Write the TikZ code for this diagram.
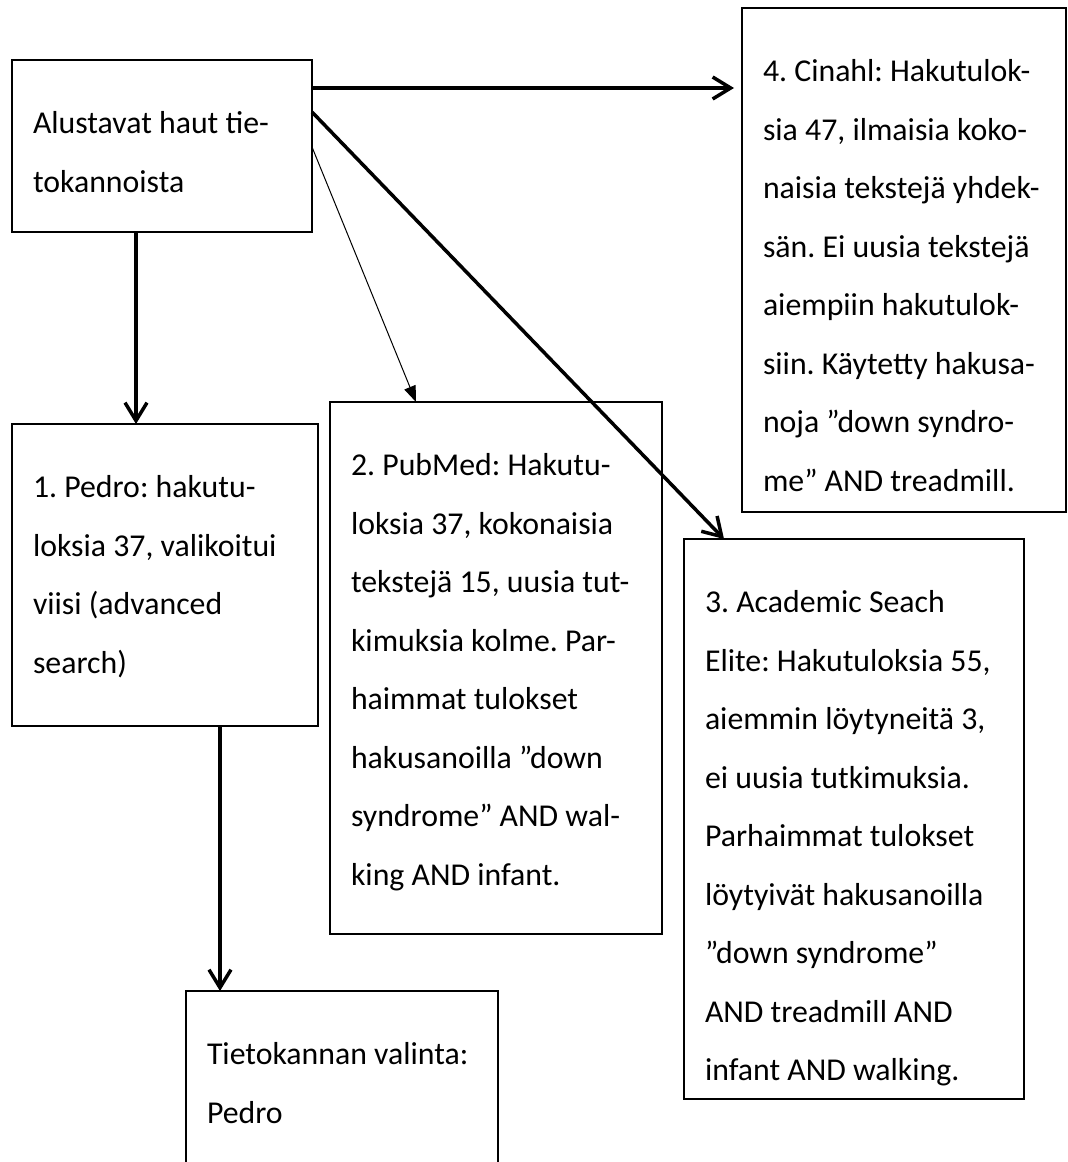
\documentclass[tikz,border=0pt]{standalone}
\usepackage{fontspec}
\setmainfont{Carlito}
\usetikzlibrary{arrows.meta}
\newcommand\bxtext[3]{\parbox[c][#2pt][t]{#1pt}{\fontsize{31.8}{58.5}\selectfont\frenchspacing\raggedright\leftskip=21pt\rule{0pt}{73.5pt}#3}}
\begin{document}
\begin{tikzpicture}[x=1pt,y=-1pt,
  box/.style={draw, line width=1.3pt, inner sep=0pt, outer sep=0pt, anchor=north west},
  thickarrow/.style={line width=3.5pt, -{Straight Barb[length=18pt,width=22pt,line width=3.5pt]}},
  thinarrow/.style={line width=1pt, -{Triangle[length=16pt,width=12pt]}}]
\clip (0,0) rectangle (1068,1162);
\fill[white] (0,0) rectangle (1068,1162);
\node[box] (A) at (12,60) {\bxtext{300}{172}{Alustavat haut tie-\\tokannoista}};
\node[box] (P1) at (12,424) {\bxtext{306}{302}{1. Pedro: hakutu-\\loksia 37, valikoitui\\viisi (advanced\\search)}};
\node[box] (P2) at (330,402) {\bxtext{332}{532}{2. PubMed: Hakutu-\\loksia 37, kokonaisia\\tekstejä 15, uusia tut-\\kimuksia kolme. Par-\\haimmat tulokset\\hakusanoilla ”down\\syndrome” AND wal-\\king AND infant.}};
\node[box] (P4) at (742,8) {\bxtext{324}{504}{4. Cinahl: Hakutulok-\\sia 47, ilmaisia koko-\\naisia tekstejä yhdek-\\sän. Ei uusia tekstejä\\aiempiin hakutulok-\\siin. Käytetty hakusa-\\noja ”down syndro-\\me” AND treadmill.}};
\node[box] (P3) at (684,539) {\bxtext{340}{560}{3. Academic Seach\\Elite: Hakutuloksia 55,\\aiemmin löytyneitä 3,\\ei uusia tutkimuksia.\\Parhaimmat tulokset\\löytyivät hakusanoilla\\”down syndrome”\\AND treadmill AND\\infant AND walking.}};
\node[box] (T) at (186,991) {\bxtext{312}{200}{Tietokannan valinta:\\Pedro}};
\draw[thickarrow] ([xshift=124pt]A.south west) -- ([xshift=124pt]P1.north west);
\draw[thickarrow, shorten >=8pt] ([yshift=-28pt]A.north east) -- ([yshift=-28pt]A.north east -| P4.west);
\draw[thickarrow] ([yshift=-52pt]A.north east) -- ([xshift=40pt]P3.north west);
\draw[thinarrow] ([yshift=-87pt]A.north east) -- ([xshift=86pt]P2.north west);
\draw[thickarrow] ([xshift=208pt]P1.south west) -- ([xshift=34pt]T.north west);
\end{tikzpicture}
\end{document}
